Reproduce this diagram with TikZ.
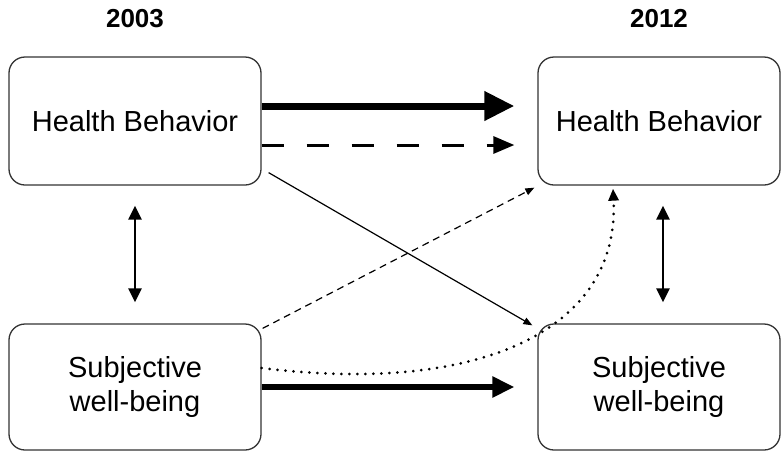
\documentclass[tikz,border=0pt]{standalone}
\usepackage{fontspec}
\setmainfont{Liberation Sans}
\usetikzlibrary{arrows.meta}
\begin{document}
\begin{tikzpicture}[x=1pt,y=-1pt,
  box/.style={draw=black!80,line width=1.3pt,rounded corners=16pt,align=center,
    font=\fontsize{29}{34}\selectfont,inner sep=0pt},
  year/.style={font=\fontsize{26}{30}\selectfont\bfseries},
  bigarrow/.style={line width=7pt,-{Triangle[length=30pt,width=28pt]}},
  midarrow/.style={line width=5.5pt,-{Triangle[length=22pt,width=20pt]}},
  dasharrow/.style={line width=3pt,dash pattern=on 22pt off 23pt,-{Triangle[length=21pt,width=17pt]}},
  dblarrow/.style={line width=2.5pt,{Triangle[length=14pt,width=13pt]}-{Triangle[length=14pt,width=13pt]}},
  thinarrow/.style={line width=1.2pt,-{Triangle[length=9pt,width=7pt]}},
  thindash/.style={line width=1.2pt,dash pattern=on 7pt off 5pt,-{Triangle[length=9pt,width=7pt]}},
  dotarrow/.style={line width=3pt,line cap=round,dash pattern=on 0pt off 8pt,-{Triangle[length=12pt,width=10pt]}}
]
\useasboundingbox (0,0) rectangle (781,451);
\node[year] (y1) at (135,19) {2003};
\node[year] (y2) at (659,19) {2012};
\node[box,minimum width=252pt,minimum height=128pt] (hb1) at (135,121) {Health Behavior};
\node[box,minimum width=242pt,minimum height=128pt] (hb2) at (659,121) {Health Behavior};
\node[box,minimum width=252pt,minimum height=126pt] (sw1) at (135,387) {Subjective\\well-being};
\node[box,minimum width=242pt,minimum height=126pt] (sw2) at (659,387) {Subjective\\well-being};
% horizontal arrows
\draw[bigarrow,shorten >=23pt] ([yshift=15pt]hb1.east) -- ([yshift=15pt]hb1.east -| hb2.west);
\draw[dasharrow,shorten >=23pt] ([yshift=-24pt]hb1.east) -- ([yshift=-24pt]hb1.east -| hb2.west);
\draw[midarrow,shorten >=23pt] (sw1.east) -- (sw1.east -| sw2.west);
% vertical double arrows
\draw[dblarrow,shorten <=20pt,shorten >=21pt] (hb1.south) -- (sw1.north);
\draw[dblarrow,shorten <=20pt,shorten >=21pt] ([xshift=4pt]hb2.south) -- ([xshift=4pt]sw2.north);
% diagonals
\draw[thinarrow] ([xshift=7pt,yshift=13pt]hb1.south east) -- ([xshift=-5pt,yshift=-2pt]sw2.north west);
\draw[thindash] ([xshift=1pt,yshift=-5pt]sw1.north east) -- ([xshift=-3pt,yshift=-2pt]hb2.south west);
% dotted curve
\draw[dotarrow] ([yshift=19pt]sw1.east) .. controls (480,395) and (620,330) .. ([xshift=-46pt,yshift=-3pt]hb2.south);
\end{tikzpicture}
\end{document}
